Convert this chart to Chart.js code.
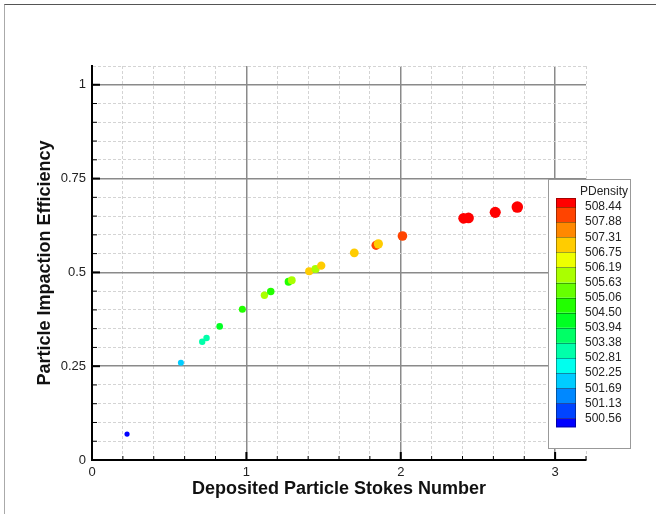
<!DOCTYPE html>
<html>
<head>
<meta charset="utf-8">
<script src="https://cdn.jsdelivr.net/npm/chart.js@4/dist/chart.umd.min.js"></script>
<style>
  body { margin: 0; background: #fff; }
  #wrap { position: relative; width: 656px; height: 514px; }
  #frame { position: absolute; left: 4px; top: 4px; right: 0; bottom: 0;
           border-top: 1.5px solid #555; border-left: 1.5px solid #aaa; pointer-events: none; }
  canvas { position: absolute; left: 0; top: 0; }
</style>
</head>
<body>
<div id="wrap">
  <canvas id="chart" width="656" height="514"></canvas>
  <div id="frame"></div>
</div>
<script>
// Deposited particle Stokes number vs impaction efficiency, coloured by PDensity
const stokes = [0.227, 0.576, 0.714, 0.742, 0.827, 0.974, 1.117, 1.158, 1.273, 1.294, 1.407,
                1.448, 1.485, 1.699, 1.840, 1.855, 2.011, 2.407, 2.439, 2.612, 2.755];
const efficiency = [0.069, 0.259, 0.315, 0.325, 0.356, 0.402, 0.439, 0.449, 0.475, 0.479, 0.503,
                    0.509, 0.518, 0.552, 0.572, 0.576, 0.597, 0.644, 0.645, 0.660, 0.674];
const pDensity = [500.35, 502.0, 503.1, 503.2, 504.2, 504.6, 505.9, 504.8, 504.9, 505.7, 507.0,
                  505.9, 507.1, 507.0, 508.1, 507.1, 508.2, 508.6, 508.7, 508.7, 508.8];

// contour legend levels (top to bottom) and the 16 band colours
const levels = [508.44, 507.88, 507.31, 506.75, 506.19, 505.63, 505.06, 504.50,
                503.94, 503.38, 502.81, 502.25, 501.69, 501.13, 500.56];
const bandColors = ['#ff0000', '#ff4400', '#ff8800', '#ffcc00', '#eeff00', '#aaff00', '#66ff00', '#22ff00',
                    '#00ff22', '#00ff66', '#00ffaa', '#00ffee', '#00ccff', '#0088ff', '#0044ff', '#0000ff'];

const xTicks = ['0', '1', '2', '3'];
const yTicks = ['0', '0.25', '0.5', '0.75', '1'];

function bandOf(v) {
  return levels.filter(l => l > v).length;
}
const isMajorX = v => Math.abs(v - Math.round(v)) < 1e-6;
const isMajorY = v => Math.abs(v * 4 - Math.round(v * 4)) < 1e-6;

const points = stokes.map((s, i) => ({ x: s, y: efficiency[i] }));

const insideTicks = {
  id: 'insideTicks',
  afterDatasetsDraw(chart) {
    const { ctx, chartArea, scales: { x, y } } = chart;
    ctx.save();
    ctx.strokeStyle = '#000';
    x.ticks.forEach(t => {
      if (t.value <= 0) return;
      const px = x.getPixelForValue(t.value);
      const major = isMajorX(t.value);
      ctx.lineWidth = major ? 2 : 1;
      ctx.beginPath();
      ctx.moveTo(px, chartArea.bottom);
      ctx.lineTo(px, chartArea.bottom - (major ? 8 : 4));
      ctx.stroke();
    });
    y.ticks.forEach(t => {
      if (t.value <= 0 || t.value > 1.01) return;
      const py = y.getPixelForValue(t.value);
      const major = isMajorY(t.value);
      ctx.lineWidth = major ? 2 : 1;
      ctx.beginPath();
      ctx.moveTo(chartArea.left, py);
      ctx.lineTo(chartArea.left + (major ? 8 : 5), py);
      ctx.stroke();
    });
    ctx.restore();
  }
};

const contourLegend = {
  id: 'contourLegend',
  afterDraw(chart) {
    const ctx = chart.ctx;
    const bx = 548, by = 179, bw = 82, bh = 269;
    ctx.save();
    ctx.fillStyle = '#fff';
    ctx.fillRect(bx, by, bw, bh);
    ctx.strokeStyle = '#999';
    ctx.lineWidth = 1;
    ctx.strokeRect(bx + 0.5, by + 0.5, bw, bh);

    ctx.fillStyle = '#222';
    ctx.font = '12px "Liberation Sans", Arial, sans-serif';
    ctx.textBaseline = 'middle';
    ctx.textAlign = 'left';
    ctx.fillText('PDensity', 580, 192);

    const barX = 556, barW = 20, top = 198, step = 15.1, half = 9;
    const edges = [top];
    for (let i = 0; i < levels.length; i++) edges.push(top + half + i * step);
    edges.push(edges[edges.length - 1] + half);
    bandColors.forEach((c, i) => {
      ctx.fillStyle = c;
      ctx.fillRect(barX, edges[i], barW, edges[i + 1] - edges[i]);
    });
    ctx.strokeStyle = 'rgba(0,0,0,0.35)';
    for (let i = 1; i < edges.length - 1; i++) {
      ctx.beginPath();
      ctx.moveTo(barX, Math.round(edges[i]) + 0.5);
      ctx.lineTo(barX + barW, Math.round(edges[i]) + 0.5);
      ctx.stroke();
    }
    ctx.strokeRect(barX + 0.5, top + 0.5, barW - 1, edges[edges.length - 1] - top - 1);

    ctx.fillStyle = '#222';
    levels.forEach((l, i) => {
      ctx.fillText(l.toFixed(2), 585, edges[i + 1]);
    });
    ctx.restore();
  }
};

new Chart(document.getElementById('chart'), {
  type: 'scatter',
  data: {
    datasets: [{
      data: points,
      pointBackgroundColor: pDensity.map(d => bandColors[bandOf(d)]),
      pointBorderWidth: 0,
      pointRadius: stokes.map(s => 2.3 + 1.25 * s)
    }]
  },
  options: {
    responsive: false,
    animation: false,
    events: [],
    layout: { padding: { left: 0, top: 66, right: 70, bottom: 0 } },
    plugins: { legend: { display: false }, tooltip: { enabled: false } },
    scales: {
      x: {
        type: 'linear',
        min: 0,
        max: 3.2,
        afterFit: s => { s.height = 54; },
        ticks: {
          stepSize: 0.2,
          autoSkip: false,
          maxRotation: 0,
          padding: 5,
          color: '#222',
          font: { family: '"Liberation Sans", Arial, sans-serif', size: 13 },
          callback: v => isMajorX(v) ? xTicks[Math.round(v)] : ''
        },
        grid: {
          drawTicks: false,
          color: c => isMajorX(c.tick.value) ? '#8a8a8a' : '#d4d4d4',
          lineWidth: c => isMajorX(c.tick.value) ? 1.5 : 1
        },
        border: {
          color: '#000',
          width: 2,
          dash: c => (c.tick && !isMajorX(c.tick.value)) ? [3, 2] : []
        },
        title: {
          display: true,
          text: 'Deposited Particle Stokes Number',
          color: '#111',
          font: { family: '"Liberation Sans", Arial, sans-serif', size: 18, weight: 'bold' },
          padding: { top: 0, bottom: 14 }
        }
      },
      y: {
        type: 'linear',
        min: 0,
        max: 1.05,
        afterFit: s => { s.width = 92; },
        ticks: {
          stepSize: 0.05,
          autoSkip: false,
          padding: 6,
          color: '#222',
          font: { family: '"Liberation Sans", Arial, sans-serif', size: 13 },
          callback: v => isMajorY(v) ? yTicks[Math.round(v * 4)] : ''
        },
        grid: {
          drawTicks: false,
          color: c => isMajorY(c.tick.value) ? '#8a8a8a' : '#d4d4d4',
          lineWidth: c => isMajorY(c.tick.value) ? 1.5 : 1
        },
        border: {
          color: '#000',
          width: 2,
          dash: c => (c.tick && !isMajorY(c.tick.value)) ? [3, 2] : []
        },
        title: {
          display: true,
          text: 'Particle Impaction Efficiency',
          color: '#111',
          font: { family: '"Liberation Sans", Arial, sans-serif', size: 18, weight: 'bold' },
          padding: { top: 34, bottom: 0 }
        }
      }
    }
  },
  plugins: [insideTicks, contourLegend]
});
</script>
</body>
</html>
